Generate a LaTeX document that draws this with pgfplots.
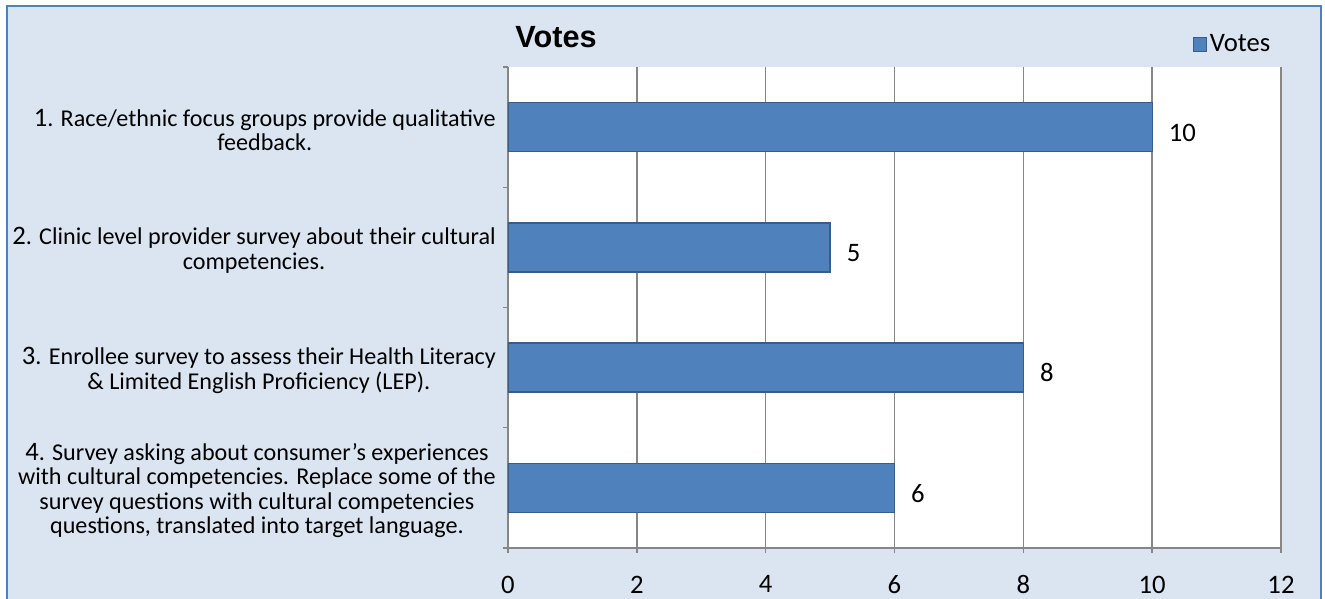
\documentclass[border=0pt]{standalone}
\usepackage{fontspec}
\setmainfont{Carlito}
\newfontfamily\titlefont{Liberation Sans}
\usepackage{pgfplots}
\pgfplotsset{compat=1.18}
\definecolor{bgblue}{RGB}{219,229,241}
\definecolor{frameblue}{RGB}{79,129,189}
\definecolor{barfill}{RGB}{79,129,189}
\definecolor{baredge}{RGB}{56,93,138}
\definecolor{gridgray}{RGB}{134,134,134}
\newcommand{\bignum}[1]{{\fontsize{20}{18}\selectfont #1}}

\begin{document}
\begin{tikzpicture}[x=0.75pt,y=0.75pt]
\useasboundingbox (0,0) rectangle (1325,599);
\begin{scope}
  \clip (0,0) rectangle (1325,599);
  \fill[bgblue] (7,-20) rectangle (1321,593);
  \draw[frameblue,line width=1.5pt] (7,-20) rectangle (1321,593);
\end{scope}
\node[font=\titlefont\bfseries\fontsize{23}{26}\selectfont] at (556,562) {Votes};
\coordinate (sw) at (508,51);
\begin{axis}[
  at={(sw)}, anchor=south west,
  scale only axis, width=579.75pt, height=360.75pt,
  xbar, bar width=36.75pt,
  xmin=0, xmax=12, ymin=0.5, ymax=4.5,
  axis lines*=left,
  axis line style={gridgray, line width=1.1pt, -},
  axis background/.style={fill=white},
  xtick={0,2,...,12},
  xmajorgrids,
  grid style={gridgray, line width=1.1pt},
  tick align=outside,
  major tick length=3.75pt,
  tick style={gridgray, line width=1.1pt},
  ytick={0.5,1.5,2.5,3.5,4.5}, yticklabels={},
  extra y ticks={1,2,3,4},
  extra y tick labels={
    {\bignum{4}. Survey asking about consumer’s experiences\\with cultural competencies. Replace some of the\\survey questions with cultural competencies\\questions, translated into target language.},
    {\bignum{3}. Enrollee survey to assess their Health Literacy\\\& Limited English Proficiency (LEP).},
    {\bignum{2}. Clinic level provider survey about their cultural\\competencies.},
    {\bignum{1}. Race/ethnic focus groups provide qualitative\\feedback.}
  },
  extra y tick style={major tick length=0pt,
    yticklabel style={align=center, font=\fontsize{18.1}{18.4}\selectfont, inner sep=0pt, xshift=-9pt, yshift=-2pt}},
  /pgf/number format/assume math mode=true,
  xticklabel style={font=\fontsize{20}{20}\selectfont, yshift=-13.5pt},
  point meta=x,
  nodes near coords,
  nodes near coords style={font=\fontsize{20}{20}\selectfont, anchor=west, inner sep=0pt, xshift=12pt, yshift=-4pt, text=black},
  legend style={at={(0.886,1.047)}, anchor=west, draw=none, fill=none, inner sep=0pt,
    font=\fontsize{20}{20}\selectfont},
  legend image code/.code={\draw[fill=barfill, draw=baredge, line width=0.75pt] (0pt,-5pt) rectangle (9.75pt,5pt);},
]
\addplot[fill=barfill, draw=baredge, line width=1pt] coordinates {
(6,1)
(8,2)
(5,3)
(10,4)
};
\addlegendentry{Votes}
\end{axis}
\end{tikzpicture}
\end{document}
